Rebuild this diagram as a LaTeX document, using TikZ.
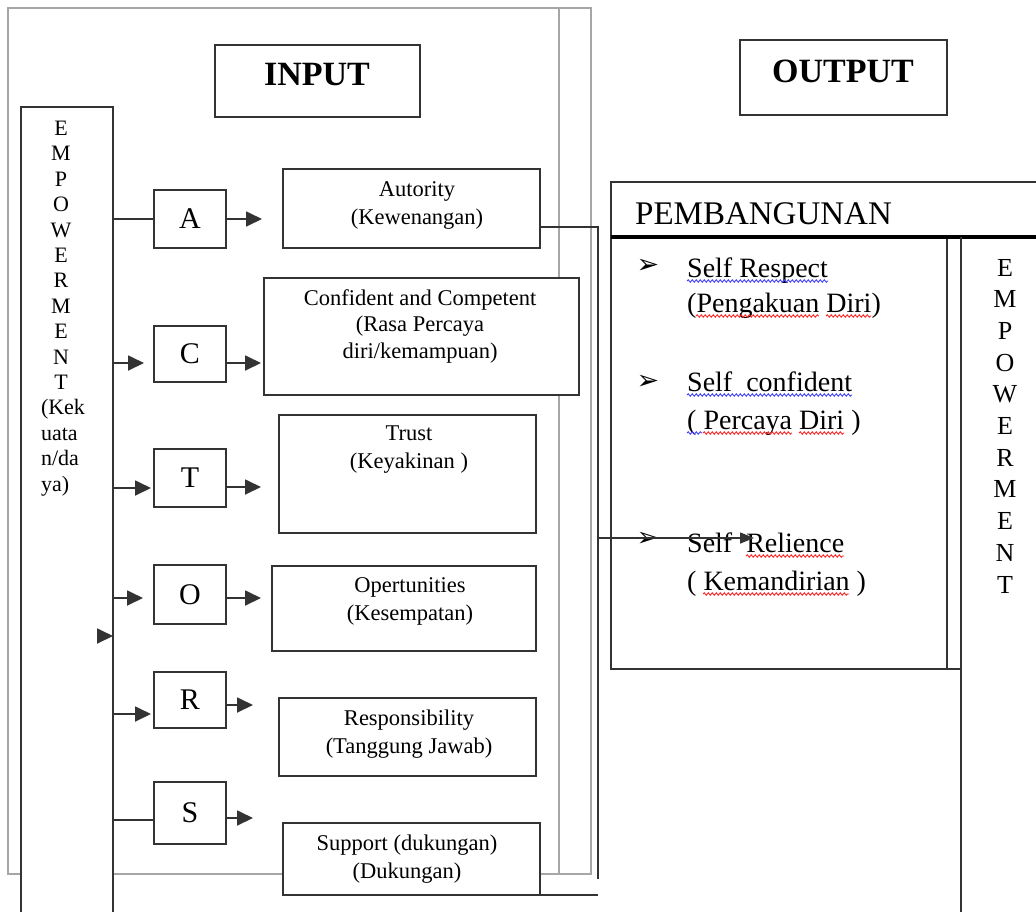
\documentclass[tikz,border=0pt]{standalone}
\usepackage{fontspec}
\setmainfont{Liberation Serif}
\newfontfamily\symfont{DejaVu Sans}
\usetikzlibrary{arrows.meta,decorations.pathmorphing}
\newcommand\capc[1]{\makebox[40pt][c]{#1}}
\tikzset{
  ln/.style={draw=black!80, line width=1.8pt},
  gl/.style={draw=black!35, line width=2.2pt},
  box/.style={ln, fill=white, inner sep=0pt, outer sep=0pt},
  tx/.style={inner sep=0pt, outer sep=0pt, align=center, font=\fontsize{22.5pt}{28pt}\selectfont},
  letter/.style={box, minimum width=72pt, font=\fontsize{30pt}{30pt}\selectfont},
  arr/.style={ln, -{Triangle[length=16pt,width=15pt]}},
  bul/.style={inner sep=0pt, font=\symfont\fontsize{27pt}{27pt}\selectfont},
  btx/.style={inner sep=0pt, anchor=base west, font=\fontsize{28pt}{28pt}\selectfont},
  wblue/.style={draw=blue!75, line width=0.9pt, decorate, decoration={snake, amplitude=1.2pt, segment length=4pt}},
  wred/.style={draw=red!85, line width=0.9pt, decorate, decoration={snake, amplitude=1.2pt, segment length=4pt}},
  head/.style={inner sep=0pt, font=\bfseries\fontsize{34pt}{34pt}\selectfont}
}
\begin{document}
\begin{tikzpicture}[x=1pt,y=-1pt]
\useasboundingbox (0,0) rectangle (1036,911);
\clip (0,0) rectangle (1036,911);
\fill[white] (0,0) rectangle (1036,911);

% gray frame
\node[gl, inner sep=0pt, outer sep=0pt, anchor=north west, minimum width=583pt, minimum height=866pt] (frame) at (8,8) {};
\draw[gl] (559,8) -- (559,874);

% INPUT / OUTPUT headings
\node[box, anchor=north west, minimum width=205pt, minimum height=72pt] (inbox) at (215,45) {};
\node[head] (intext) at (317,75) {INPUT};
\node[box, anchor=north west, minimum width=207pt, minimum height=75pt] (outbox) at (740,40) {};
\node[head] (outtext) at (843,71) {OUTPUT};

% left EMPOWERMENT column
\node[box, anchor=north west, minimum width=92pt, minimum height=830pt] (emp) at (21,107) {};
\node[inner sep=0pt, outer sep=0pt, anchor=north west, align=left, font=\fontsize{22pt}{25.4pt}\selectfont] (emptext) at (41,121)
  {\capc{E}\\\capc{M}\\\capc{P}\\\capc{O}\\\capc{W}\\\capc{E}\\\capc{R}\\\capc{M}\\\capc{E}\\\capc{N}\\\capc{T}\\(Kek\\uata\\n/da\\ya)};

% letter boxes
\node[letter, anchor=north west, minimum height=58pt] (A) at (154,190) {A};
\node[letter, anchor=north west, minimum height=56pt] (C) at (154,326) {C};
\node[letter, anchor=north west, minimum height=58pt] (T) at (154,449) {T};
\node[letter, anchor=north west, minimum height=59pt] (O) at (154,565) {O};
\node[letter, anchor=north west, minimum height=56pt] (R) at (154,672) {R};
\node[letter, anchor=north west, minimum height=62pt] (S) at (154,782) {S};

% content boxes
\node[box, anchor=north west, minimum width=257pt, minimum height=79pt] (aut) at (283,169) {};
\node[tx] (autT) at (417,205) {Autority\\(Kewenangan)};
\node[box, anchor=north west, minimum width=315pt, minimum height=117pt] (conf) at (264,278) {};
\node[tx, font=\fontsize{22.5pt}{26.5pt}\selectfont] (confT) at (420,326) {Confident and Competent\\(Rasa Percaya\\diri/kemampuan)};
\node[box, anchor=north west, minimum width=257pt, minimum height=118pt] (trust) at (279,415) {};
\node[tx] (trustT) at (409,450) {Trust\\(Keyakinan )};
\node[box, anchor=north west, minimum width=264pt, minimum height=85pt] (opp) at (272,566) {};
\node[tx] (oppT) at (410,601) {Opertunities\\(Kesempatan)};
\node[box, anchor=north west, minimum width=257pt, minimum height=78pt] (resp) at (279,698) {};
\node[tx] (respT) at (409,734) {Responsibility\\(Tanggung Jawab)};
\node[box, anchor=north west, minimum width=257pt, minimum height=72pt] (sup) at (283,823) {};
\node[tx] (supT) at (407,859) {Support (dukungan)\\(Dukungan)};

% connectors from EMPOWERMENT to letters
\draw[ln] (emp.east |- A.west) -- (A.west);
\draw[arr, shorten >=10pt] (emp.east |- 0,363) -- (C.west |- 0,363);
\draw[arr, shorten >=3pt] (emp.east |- 0,488) -- (T.west |- 0,488);
\draw[arr, shorten >=11pt] (emp.east |- 0,598) -- (O.west |- 0,598);
\draw[arr, shorten >=3pt] (emp.east |- 0,714) -- (R.west |- 0,714);
\draw[ln] (emp.east |- 0,820) -- (S.west |- 0,820);
\coordinate (stray) at (98,636);
\draw[arr] (stray) -- (emp.east |- stray);

% letters to content boxes
\draw[arr, shorten >=21pt] (A.east) -- (aut.west |- A.east);
\draw[arr, shorten >=3pt] (C.east |- 0,363) -- (conf.west |- 0,363);
\draw[arr, shorten >=18pt] (T.east |- 0,487) -- (trust.west |- 0,487);
\draw[arr, shorten >=11pt] (O.east |- 0,598) -- (opp.west |- 0,598);
\draw[arr, shorten >=26pt] (R.east |- 0,705) -- (resp.west |- 0,705);
\draw[arr, shorten >=30pt] (S.east |- 0,818) -- (sup.west |- 0,818);

% connectors to output side
\coordinate (autend) at (598,879);
\coordinate (junc) at (598,538);
\coordinate (relarrow) at (754,538);
\coordinate (supend) at (598,895);
\draw[ln, line width=1.6pt] (aut.east |- 0,227) -| (autend);
\draw[ln, line width=1.6pt] (sup.south east) -- (supend);

% PEMBANGUNAN block
\node[box, anchor=north west, minimum width=336pt, minimum height=432pt] (selfbox) at (611,237) {};
\node[box, anchor=south west, minimum width=440pt, minimum height=55pt] (pemb) at (611,237) {};
\draw[draw=black, line width=4pt] (pemb.south west) -- (pemb.south east);
\node[inner sep=0pt, anchor=base west, font=\fontsize{33pt}{33pt}\selectfont] (pembT) at (635,224) {PEMBANGUNAN};
\coordinate (rt) at (961,237);
\draw[ln] (rt) -- (rt |- 0,920);
\draw[ln] (selfbox.south east) -- (selfbox.south east -| rt);

% bullets
\node[bul] (b1) at (648,266) {➢};
\node[btx] (t1a) at (687,277) {Self Respect};
\node[btx] (t1b) at (687,312) {(Pengakuan Diri)};
\node[bul] (b2) at (648,382) {➢};
\node[btx] (t2a) at (687,391) {Self\ \ confident};
\node[btx] (t2b) at (687,429) {( Percaya Diri )};
\node[bul] (b3) at (648,539) {➢};
\node[btx] (t3a) at (687,552) {Self\ \ Relience};
\node[btx] (t3b) at (687,590) {( Kemandirian )};
\draw[ln, line width=1.5pt, -{Triangle[length=14pt,width=11pt]}] (junc) -- (relarrow);

% spell-check squiggles
\draw[wblue] (687,281) -- (828,281);
\draw[wred] (696,316) -- (819,316);
\draw[wred] (826,316) -- (871,316);
\draw[wblue] (687,395) -- (852,395);
\draw[wblue] (687,433) -- (702,433);
\draw[wred] (703,433) -- (792,433);
\draw[wred] (799,433) -- (844,433);
\draw[wred] (746,556) -- (844,556);
\draw[wred] (703,594) -- (849,594);

% right EMPOWERMENT
\node[inner sep=0pt, outer sep=0pt, anchor=north, align=center, font=\fontsize{26pt}{31.7pt}\selectfont] (emp2) at (1005,259)
  {E\\M\\P\\O\\W\\E\\R\\M\\E\\N\\T};
\end{tikzpicture}
\end{document}
